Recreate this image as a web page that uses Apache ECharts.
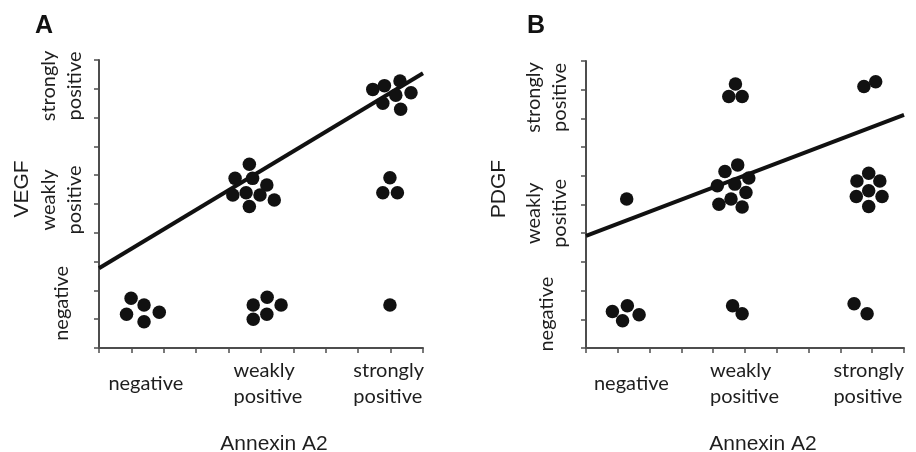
<!DOCTYPE html>
<html><head><meta charset="utf-8">
<script src="https://cdn.jsdelivr.net/npm/echarts@6/dist/echarts.min.js"></script>
<style>html,body{margin:0;padding:0;background:#fff}#c{width:916px;height:452px}</style>
</head><body><div id="c"></div>
<script>
// Category labels (shared by both axes of both panels)
const categories = ['negative', 'weakly\npositive', 'strongly\npositive'];
// Where each category label sits along its axis (axis units 0..10)
const xLabelPosA = [0.29, 4.15, 7.85];
const xLabelPosB = [0.25, 3.90, 7.78];
const yLabelPosA = [1.55, 5.14, 9.10];
const yLabelPosB = [1.18, 4.69, 8.73];

// Panel A: Annexin A2 (x) vs VEGF (y), jittered ordinal scores
const vegfX = [0.99,1.39,0.85,1.86,1.39, 4.76,5.19,5.62,4.76,5.18, 8.98,
  4.64,4.20,4.74,5.18,4.13,4.54,4.97,5.41,4.64, 8.98,8.76,9.21,
  8.45,8.81,9.29,9.16,9.63,8.76,9.31];
const vegfY = [1.73,1.49,1.17,1.24,0.91, 1.49,1.76,1.49,1.00,1.17, 1.49,
  6.38,5.89,5.89,5.66,5.31,5.39,5.31,5.14,4.91, 5.91,5.39,5.39,
  8.98,9.11,9.27,8.78,8.86,8.50,8.29];
// Panel B: Annexin A2 (x) vs PDGF (y)
const pdgfX = [0.83,1.30,1.15,1.67, 4.61,4.91, 8.43,8.84, 1.28,
  4.77,4.37,5.12,4.13,4.68,5.03,4.56,4.18,4.91,
  8.89,8.52,9.24,8.89,8.50,9.31,8.89, 4.70,4.49,4.91, 8.74,9.11];
const pdgfY = [1.27,1.47,0.95,1.16, 1.47,1.19, 1.54,1.19, 5.19,
  6.38,6.15,5.92,5.65,5.71,5.42,5.19,5.01,4.91,
  6.09,5.82,5.82,5.48,5.28,5.28,4.93, 9.20,8.76,8.76, 9.11,9.28];
// Fitted regression lines (endpoints at axis min / max)
const vegfFitX = [0, 10];
const vegfFitY = [2.77, 9.54];
const pdgfFitX = [0, 10];
const pdgfFitY = [3.91, 8.12];

const zip = (a, b) => a.map((v, i) => [v, b[i]]);
const labelFor = pos => v => {
  let best = 0, d = Infinity;
  pos.forEach((p, i) => { const e = Math.abs(p - v); if (e < d) { d = e; best = i; } });
  return categories[best];
};
const AX = '#4d4d4d', TXT = '#1e1e1e', DOT = '#111';

function xAxis(gi, pos, pad) {
  return {
    type: 'value', gridIndex: gi, min: 0, max: 10, interval: 1,
    name: 'Annexin A2', nameLocation: 'middle', nameGap: 86,
    nameTextStyle: { fontFamily: 'Liberation Sans', fontSize: 21, color: TXT, padding: [0, 0, 0, pad] },
    axisLine: { show: true, onZero: false, lineStyle: { color: AX, width: 2 } },
    axisTick: { show: true, length: 5, lineStyle: { color: AX, width: 1.5 } },
    splitLine: { show: false },
    axisLabel: { show: true, customValues: pos, formatter: labelFor(pos), align: 'left', verticalAlign: 'middle',
      margin: 36, fontFamily: 'Lato', fontSize: 20, lineHeight: 26, color: TXT }
  };
}
function yAxis(gi, pos, name, gap, pad, margin) {
  return {
    type: 'value', gridIndex: gi, min: 0, max: 10, interval: 1,
    name: name, nameLocation: 'middle', nameGap: gap,
    nameTextStyle: { fontFamily: 'Liberation Sans', fontSize: 21, color: TXT, padding: [0, 0, 0, pad] },
    axisLine: { show: true, onZero: false, lineStyle: { color: AX, width: 2 } },
    axisTick: { show: true, length: 5, lineStyle: { color: AX, width: 1.5 } },
    splitLine: { show: false },
    axisLabel: { show: true, customValues: pos, formatter: labelFor(pos), rotate: 90, align: 'center', verticalAlign: 'middle',
      margin: margin, fontFamily: 'Lato', fontSize: 20, lineHeight: 26, color: TXT }
  };
}

const chart = echarts.init(document.getElementById('c'), null, { renderer: 'canvas' });
chart.setOption({
  animation: false,
  backgroundColor: '#fff',
  title: [
    { text: 'A', left: 35, top: 14, padding: 0, textStyle: { fontFamily: 'Liberation Sans', fontSize: 25, fontWeight: 'bold', color: '#111' } },
    { text: 'B', left: 527, top: 14, padding: 0, textStyle: { fontFamily: 'Liberation Sans', fontSize: 25, fontWeight: 'bold', color: '#111' } }
  ],
  grid: [
    { left: 99, top: 60, width: 324, height: 288, containLabel: false, outerBoundsMode: 'none' },
    { left: 586, top: 61, width: 318, height: 287, containLabel: false, outerBoundsMode: 'none' }
  ],
  xAxis: [xAxis(0, xLabelPosA, 26), xAxis(1, xLabelPosB, 36)],
  yAxis: [yAxis(0, yLabelPosA, 'VEGF', 66, 30, 37), yAxis(1, yLabelPosB, 'PDGF', 76, 31, 39)],
  series: [
    { type: 'line', xAxisIndex: 0, yAxisIndex: 0, data: zip(vegfFitX, vegfFitY), symbol: 'none',
      lineStyle: { color: DOT, width: 4 }, z: 2 },
    { type: 'scatter', xAxisIndex: 0, yAxisIndex: 0, data: zip(vegfX, vegfY), symbolSize: 13.5,
      itemStyle: { color: DOT, opacity: 1 }, z: 3 },
    { type: 'line', xAxisIndex: 1, yAxisIndex: 1, data: zip(pdgfFitX, pdgfFitY), symbol: 'none',
      lineStyle: { color: DOT, width: 4 }, z: 2 },
    { type: 'scatter', xAxisIndex: 1, yAxisIndex: 1, data: zip(pdgfX, pdgfY), symbolSize: 13.5,
      itemStyle: { color: DOT, opacity: 1 }, z: 3 }
  ]
});
</script>
</body></html>
